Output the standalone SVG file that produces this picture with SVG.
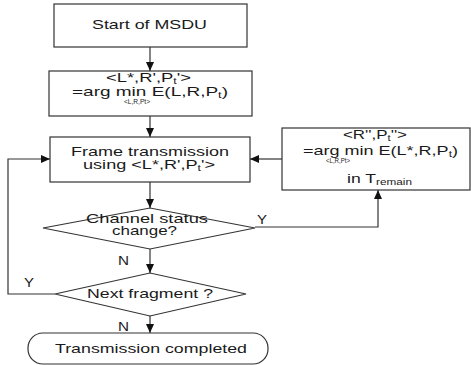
<svg xmlns="http://www.w3.org/2000/svg" width="471" height="365" viewBox="0 0 471 365">
<style>
.s{fill:#fff;stroke:#333;stroke-width:1.2}
.t{font-family:"Liberation Sans",Arial,sans-serif;font-size:13.5px;fill:#1a1a1a}
.sm{font-size:7px}
.sb{font-size:9px}
.c{fill:none;stroke:#333;stroke-width:1.2}
</style>
<defs>
<marker id="a" markerUnits="userSpaceOnUse" markerWidth="10" markerHeight="10" refX="9" refY="4" orient="auto">
<path d="M0,0 L9,4 L0,8 Z" fill="#111"/>
</marker>
</defs>
<rect width="471" height="365" fill="#fff"/>
<g id="connectors">
<line class="c" x1="150" y1="47" x2="150" y2="71" marker-end="url(#a)"/>
<line class="c" x1="150" y1="116" x2="150" y2="137" marker-end="url(#a)"/>
<line class="c" x1="150" y1="182" x2="150" y2="208" marker-end="url(#a)"/>
<line class="c" x1="150" y1="249" x2="150" y2="273" marker-end="url(#a)"/>
<line class="c" x1="150" y1="316" x2="150" y2="333" marker-end="url(#a)"/>
<polyline class="c" points="255,227 378,227 378,190" marker-end="url(#a)"/>
<line class="c" x1="282" y1="159" x2="250" y2="159" marker-end="url(#a)"/>
<polyline class="c" points="55,294 8,294 8,159 50,159" marker-end="url(#a)"/>
<text class="t" x="257" y="224" textLength="10" lengthAdjust="spacingAndGlyphs">Y</text>
<text class="t" x="118" y="265" textLength="11" lengthAdjust="spacingAndGlyphs">N</text>
<text class="t" x="24" y="287" textLength="10" lengthAdjust="spacingAndGlyphs">Y</text>
<text class="t" x="118" y="331" textLength="11" lengthAdjust="spacingAndGlyphs">N</text>
</g>
<g id="start">
<rect class="s" x="54" y="4" width="193" height="43"/>
<text class="t" x="92" y="29" textLength="115" lengthAdjust="spacingAndGlyphs">Start of MSDU</text>
</g>
<g id="init">
<rect class="s" x="49" y="71" width="203" height="45"/>
<text class="t" x="106" y="82" textLength="85" lengthAdjust="spacingAndGlyphs">&lt;L*,R',P<tspan class="sb" dy="2">t</tspan><tspan dy="-2">'&gt;</tspan></text>
<text class="t" x="72" y="96" textLength="156" lengthAdjust="spacingAndGlyphs">=arg min E(L,R,P<tspan class="sb" dy="2">t</tspan><tspan dy="-2">)</tspan></text>
<text class="t sm" x="124" y="104" textLength="26" lengthAdjust="spacingAndGlyphs">&lt;L,R,Pt&gt;</text>
</g>
<g id="frame">
<rect class="s" x="50" y="137" width="200" height="45"/>
<text class="t" x="71" y="156" textLength="158" lengthAdjust="spacingAndGlyphs">Frame transmission</text>
<text class="t" x="83" y="169" textLength="132" lengthAdjust="spacingAndGlyphs">using &lt;L*,R',P<tspan class="sb" dy="2">t</tspan><tspan dy="-2">'&gt;</tspan></text>
</g>
<g id="reopt">
<rect class="s" x="282" y="128" width="188" height="62"/>
<text class="t" x="343" y="139" textLength="64" lengthAdjust="spacingAndGlyphs">&lt;R'',P<tspan class="sb" dy="2">t</tspan><tspan dy="-2">''&gt;</tspan></text>
<text class="t" x="303" y="155" textLength="155" lengthAdjust="spacingAndGlyphs">=arg min E(L*,R,P<tspan class="sb" dy="2">t</tspan><tspan dy="-2">)</tspan></text>
<text class="t sm" x="326" y="163" textLength="24" lengthAdjust="spacingAndGlyphs">&lt;L,R,Pt&gt;</text>
<text class="t" x="347" y="183" textLength="65" lengthAdjust="spacingAndGlyphs">in T<tspan class="sb" dy="2">remain</tspan></text>
</g>
<g id="channel">
<polygon class="s" points="43,228 150,208 255,228 150,249"/>
<text class="t" x="86" y="223" textLength="122" lengthAdjust="spacingAndGlyphs">Channel status</text>
<text class="t" x="112" y="235" textLength="65" lengthAdjust="spacingAndGlyphs">change?</text>
</g>
<g id="next">
<polygon class="s" points="55,294 150,273 246,294 150,316"/>
<text class="t" x="87" y="298" textLength="126" lengthAdjust="spacingAndGlyphs">Next fragment ?</text>
</g>
<g id="done">
<rect class="s" x="28" y="333" width="240" height="31" rx="15" ry="15"/>
<text class="t" x="55" y="353" textLength="192" lengthAdjust="spacingAndGlyphs">Transmission completed</text>
</g>
</svg>
